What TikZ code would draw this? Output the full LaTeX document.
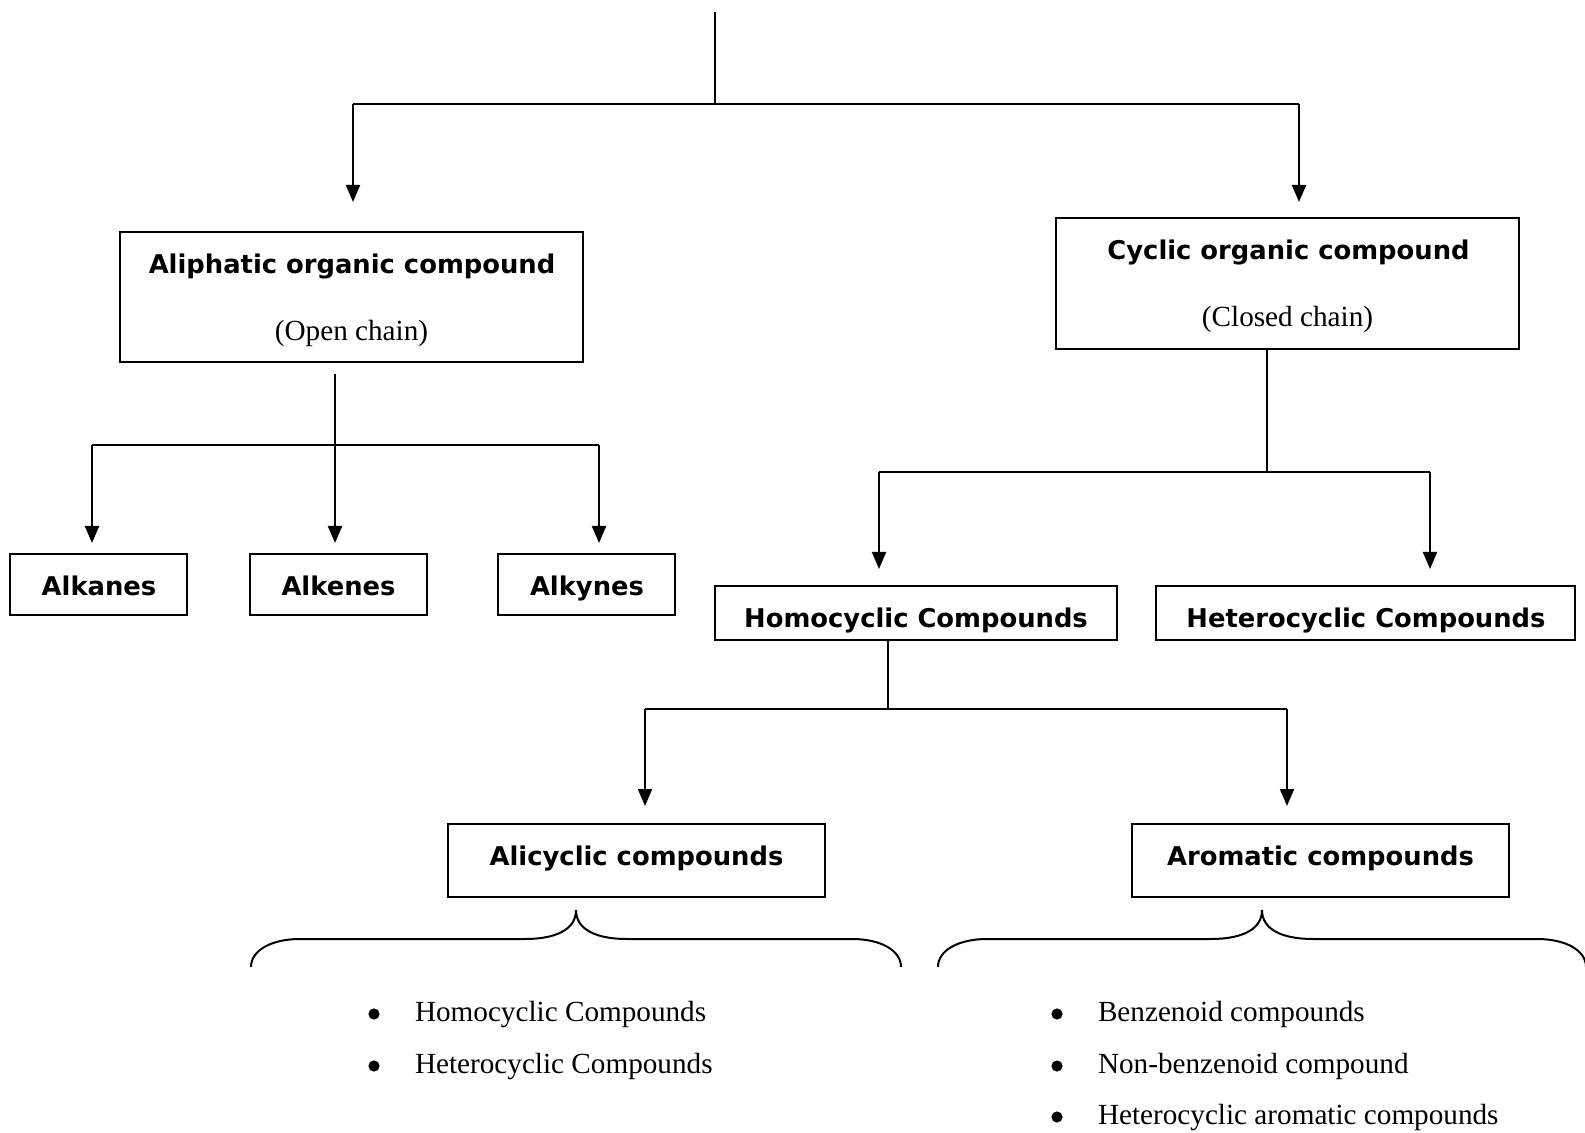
\documentclass[tikz,border=0pt]{standalone}
\usepackage{fontspec}
\setmainfont{Liberation Serif}
\newfontfamily\headfont{DejaVu Sans}
\usetikzlibrary{arrows.meta}
\begin{document}
\begin{tikzpicture}[x=0.5pt,y=-0.5pt,
  line width=1pt,
  box/.style={draw,line width=1pt,inner sep=0pt},
  head/.style={font=\headfont\bfseries\fontsize{12.9}{15}\selectfont,
               inner sep=0pt,text height=0.73em,text depth=0pt},
  plain/.style={font=\fontsize{14.6}{17}\selectfont,
               inner sep=0pt,text height=0.66em,text depth=0pt},
  item/.style={plain,anchor=west},
  arr/.style={-{Triangle[length=8.5pt,width=7pt]}},
  brace/.style={line width=1pt}]
\useasboundingbox (0,0) rectangle (1585,1133);
\clip (0,0) rectangle (1585,1133);

% ---- boxes ----
\node[box,minimum width=231.5pt,minimum height=65pt]   (ali)  at (351.5,297)  {};
\node[box,minimum width=231.5pt,minimum height=65.5pt] (cyc)  at (1287.5,283.5) {};
\node[box,minimum width=88.5pt,minimum height=30.5pt]  (alka) at (98.5,584.5) {};
\node[box,minimum width=88.5pt,minimum height=30.5pt]  (alke) at (338.5,584.5) {};
\node[box,minimum width=88.5pt,minimum height=30.5pt]  (alky) at (586.5,584.5) {};
\node[box,minimum width=201pt,minimum height=27pt]     (homo) at (916,613) {};
\node[box,minimum width=209.5pt,minimum height=27pt]   (hete) at (1365.5,613) {};
\node[box,minimum width=188.5pt,minimum height=36.5pt] (alic) at (636.5,860.5) {};
\node[box,minimum width=188.5pt,minimum height=36.5pt] (arom) at (1320.5,860.5) {};

% ---- box labels ----
\node[head]  (aliT)  at (352,266)   {Aliphatic organic compound};
\node[plain] (aliS)  at (351.5,334) {(Open chain)};
\node[head]  (cycT)  at (1288.5,252) {Cyclic organic compound};
\node[plain] (cycS)  at (1287.5,320) {(Closed chain)};
\node[head]  (alkaT) at (99,588)    {Alkanes};
\node[head]  (alkeT) at (338.5,588) {Alkenes};
\node[head]  (alkyT) at (587,588)   {Alkynes};
\node[head]  (homoT) at (916,620)   {Homocyclic Compounds};
\node[head]  (heteT) at (1366,620)  {Heterocyclic Compounds};
\node[head]  (alicT) at (636.5,858) {Alicyclic compounds};
\node[head]  (aromT) at (1320.5,858) {Aromatic compounds};

% ---- junction coordinates ----
\coordinate (top)  at (715,12);
\coordinate (topJ) at (715,104);
\coordinate (topL) at (353,104);
\coordinate (topR) at (1299,104);
\coordinate (aliIn) at (353,202);
\coordinate (cycIn) at (1299,202);

\coordinate (aliOut) at (335,374);
\coordinate (aliJ)   at (335,445);
\coordinate (aliL)   at (92,445);
\coordinate (aliR)   at (599,445);
\coordinate (alkaIn) at (92,543);
\coordinate (alkeIn) at (335,543);
\coordinate (alkyIn) at (599,543);

\coordinate (cycOut) at (1267,349);
\coordinate (cycJ)   at (1267,472);
\coordinate (cycL)   at (879,472);
\coordinate (cycR)   at (1430,472);
\coordinate (homoIn) at (879,569);
\coordinate (heteIn) at (1430,569);

\coordinate (homoOut) at (888,640);
\coordinate (homoJ)   at (888,709);
\coordinate (homoL)   at (645,709);
\coordinate (homoR)   at (1287,709);
\coordinate (alicIn)  at (645,806);
\coordinate (aromIn)  at (1287,806);

% ---- connectors ----
\draw (top) -- (topJ);
\draw (topL) -- (topR);
\draw[arr] (topL) -- (aliIn);
\draw[arr] (topR) -- (cycIn);

\draw[arr] (aliOut) -- (alkeIn);
\draw (aliL) -- (aliR);
\draw[arr] (aliL) -- (alkaIn);
\draw[arr] (aliR) -- (alkyIn);

\draw (cycOut) -- (cycJ);
\draw (cycL) -- (cycR);
\draw[arr] (cycL) -- (homoIn);
\draw[arr] (cycR) -- (heteIn);

\draw (homoOut) -- (homoJ);
\draw (homoL) -- (homoR);
\draw[arr] (homoL) -- (alicIn);
\draw[arr] (homoR) -- (aromIn);

% ---- braces under the last two boxes ----
\draw[brace] (251,967) .. controls (251,950) and (272,939) .. (300,939)
  -- (525,939) .. controls (555,939) and (576,930) .. (576,910)
  .. controls (576,930) and (597,939) .. (627,939)
  -- (852,939) .. controls (880,939) and (901,950) .. (901,967);
\draw[brace] (938,967) .. controls (938,950) and (959,939) .. (987,939)
  -- (1211,939) .. controls (1241,939) and (1262,930) .. (1262,910)
  .. controls (1262,930) and (1283,939) .. (1313,939)
  -- (1537,939) .. controls (1565,939) and (1586,950) .. (1586,967);

% ---- bullet lists ----
\node[item]  (l1) at (414,1015)  {Homocyclic Compounds};
\node[item]  (l2) at (414,1067)  {Heterocyclic Compounds};
\node[item]  (r1) at (1097,1015) {Benzenoid compounds};
\node[item]  (r2) at (1097,1067) {Non-benzenoid compound};
\node[item]  (r3) at (1097,1118) {Heterocyclic aromatic compounds};
\foreach \n in {l1,l2,r1,r2,r3}
  \fill ([xshift=-20pt,yshift=0.5pt]\n.west) circle (2.8pt);
\end{tikzpicture}
\end{document}
